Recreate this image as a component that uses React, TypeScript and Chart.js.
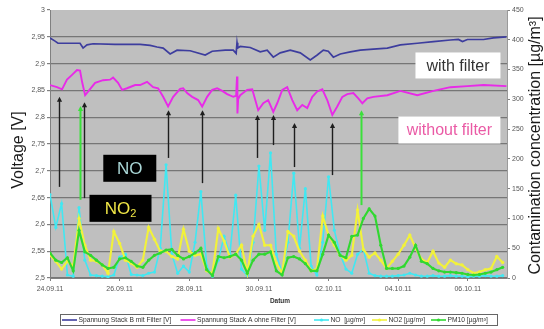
import { useEffect, useRef } from 'react';
import { Chart, registerables } from 'chart.js';

Chart.register(...registerables);

// Time axis: hours since 24.09.2011 00:00
const dateTickHours = [0, 48, 96, 144, 192, 240, 288];
const dateLabels = ['24.09.11', '26.09.11', '28.09.11', '30.09.11', '02.10.11', '04.10.11', '06.10.11'];

// Stack B (with filter), voltage [V]
const stackBHours = [0, 3.5, 5.5, 20.7, 22.8, 25.5, 29.7, 44.9, 62.1, 69, 73.8, 78, 82.8, 87.6, 96.6, 107, 111.8, 120.8, 126.3, 128.3, 128.9, 129.4, 131.1, 138, 144.9, 149.7, 153.9, 158.7, 165.6, 172.5, 179.4, 184.2, 188.4, 191.8, 195.3, 200.1, 207, 213.9, 222.9, 232.5, 241.5, 253.2, 264.3, 276, 281.5, 284.3, 287.7, 298.8, 305.7, 314.6];
const stackBVolts = [2.948, 2.942, 2.938, 2.938, 2.929, 2.935, 2.937, 2.936, 2.936, 2.934, 2.931, 2.929, 2.918, 2.925, 2.924, 2.916, 2.923, 2.925, 2.925, 2.919, 2.939, 2.929, 2.932, 2.93, 2.922, 2.925, 2.912, 2.92, 2.925, 2.92, 2.907, 2.916, 2.925, 2.923, 2.912, 2.918, 2.922, 2.925, 2.927, 2.929, 2.935, 2.938, 2.941, 2.944, 2.945, 2.941, 2.945, 2.945, 2.948, 2.95];

// Stack A (without filter), voltage [V]
const stackAHours = [0, 4.8, 8.3, 11.7, 15.2, 18.6, 20.7, 22.1, 24.2, 26.9, 31.1, 36.6, 41.4, 43.5, 46.9, 49.7, 53.1, 58.7, 62.1, 66.9, 71.1, 74.5, 78, 81.4, 84.9, 89.7, 91.8, 94.5, 98, 102.1, 104.9, 108.3, 111.8, 115.2, 118.7, 122.1, 126.3, 128.3, 128.9, 129.2, 129.7, 131.1, 135.9, 139.4, 141.5, 143.5, 147, 150.4, 153.9, 156.6, 160.1, 163.5, 167, 170.4, 173.9, 177.3, 180.8, 184.2, 187.7, 191.1, 194.6, 198, 201.5, 204.9, 209.1, 212.5, 215.3, 218.7, 222.9, 232.5, 241.5, 253.2, 264.3, 276, 287.7, 298.8, 314.6];
const stackAVolts = [2.86, 2.856, 2.852, 2.87, 2.879, 2.888, 2.887, 2.866, 2.841, 2.85, 2.864, 2.869, 2.87, 2.874, 2.864, 2.851, 2.854, 2.86, 2.86, 2.866, 2.856, 2.854, 2.838, 2.82, 2.838, 2.853, 2.854, 2.845, 2.838, 2.832, 2.82, 2.838, 2.851, 2.854, 2.849, 2.843, 2.838, 2.84, 2.876, 2.807, 2.834, 2.841, 2.851, 2.852, 2.832, 2.813, 2.826, 2.832, 2.81, 2.826, 2.851, 2.856, 2.832, 2.813, 2.823, 2.817, 2.838, 2.848, 2.852, 2.832, 2.804, 2.82, 2.838, 2.843, 2.845, 2.835, 2.826, 2.835, 2.838, 2.841, 2.849, 2.841, 2.849, 2.856, 2.858, 2.86, 2.858];

// Pollutant readings every 4 hours [µg/m³]
const sampleHours = Array.from({ length: 79 }, (_, i) => i * 4);
const noValues = [140, 85, 125, 5, 3, 118, 30, 5, 4, 3, 2, 5, 35, 40, 6, 5, 4, 8, 10, 50, 190, 40, 8, 20, 10, 60, 145, 20, 3, 30, 70, 40, 139, 15, 4, 60, 188, 80, 210, 40, 8, 60, 176, 50, 150, 20, 5, 60, 170, 80, 40, 15, 8, 40, 48, 8, 4, 3, 3, 3, 4, 5, 8, 5, 3, 3, 4, 3, 3, 4, 3, 3, 2, 3, 3, 4, 3, 3, 4];
const no2Values = [38, 28, 15, 28, 20, 100, 55, 30, 28, 22, 8, 78, 58, 30, 25, 18, 30, 85, 65, 45, 45, 36, 32, 82, 45, 38, 40, 12, 8, 83, 62, 35, 40, 55, 8, 70, 90, 55, 55, 25, 8, 78, 70, 45, 30, 12, 15, 104, 72, 55, 38, 30, 38, 114, 48, 35, 42, 30, 16, 28, 40, 55, 72, 50, 32, 26, 45, 25, 18, 30, 24, 22, 14, 8, 10, 14, 16, 36, 26];
const pm10Values = [42, 30, 26, 34, 12, 80, 44, 38, 30, 22, 16, 18, 32, 34, 28, 20, 18, 30, 38, 42, 47, 48, 38, 32, 36, 42, 50, 14, 4, 36, 34, 36, 40, 30, 8, 30, 40, 40, 44, 12, 5, 34, 36, 32, 24, 12, 12, 40, 72, 60, 38, 34, 70, 72, 100, 116, 104, 55, 16, 16, 16, 20, 35, 55, 28, 24, 16, 12, 10, 10, 9, 8, 6, 5, 6, 8, 10, 14, 18];

const seriesLabels = ['Spannung Stack B mit Filter [V]', 'Spannung Stack A ohne Filter [V]', 'NO  [µg/m³]', 'NO2 [µg/m³]', 'PM10 [µg/m³]'];
const seriesColors = ['#3d3d9e', '#e82ae8', '#40e8f2', '#f2f23a', '#30d830'];

// Arrows marking voltage drops caused by pollution peaks (hour, tip and tail voltage)
const arrowHours = [6.2, 20.7, 23.5, 81.4, 104.9, 142.8, 153.9, 168.4, 194.6, 214.6];
const arrowTipVolts = [2.838, 2.821, 2.828, 2.813, 2.813, 2.804, 2.804, 2.789, 2.789, 2.813];
const arrowTailVolts = [2.67, 2.646, 2.649, 2.724, 2.677, 2.724, 2.748, 2.707, 2.692, 2.636];
const arrowIsGreen = [false, true, false, false, false, false, false, false, false, true];

const FONT = '"Liberation Sans", Arial, sans-serif';

type Box = { text: string; sub?: string; hour: number; volt: number; w: number; h: number; fg: string; bg: string; size: number };
const labelBoxes: Box[] = [
  { text: 'with filter', hour: 281.2, volt: 2.8965, w: 85, h: 26, fg: '#333333', bg: '#ffffff', size: 16 },
  { text: 'without filter', hour: 275.3, volt: 2.776, w: 102, h: 27, fg: '#ea5aa5', bg: '#ffffff', size: 16 },
  { text: 'NO', hour: 55.0, volt: 2.7047, w: 53, h: 27, fg: '#a9d6d6', bg: '#000000', size: 17 },
  { text: 'NO', sub: '2', hour: 48.6, volt: 2.630, w: 62, h: 27, fg: '#f0e646', bg: '#000000', size: 17 },
];

const overlayPlugin = {
  id: 'overlay',
  beforeDraw(chart: any) {
    const { ctx, chartArea: a } = chart;
    ctx.save();
    ctx.fillStyle = '#bfbfbf';
    ctx.fillRect(a.left, a.top, a.right - a.left, a.bottom - a.top);
    ctx.restore();
  },
  afterDatasetsDraw(chart: any) {
    const { ctx } = chart;
    const xs = chart.scales.x;
    const ys = chart.scales.y;
    ctx.save();
    // arrows
    arrowHours.forEach((h, i) => {
      const x = Math.round(xs.getPixelForValue(h)) + 0.5;
      const tip = ys.getPixelForValue(arrowTipVolts[i]);
      const tail = ys.getPixelForValue(arrowTailVolts[i]);
      const color = arrowIsGreen[i] ? '#3be03b' : '#1e1e1e';
      ctx.strokeStyle = color;
      ctx.fillStyle = color;
      ctx.lineWidth = arrowIsGreen[i] ? 2 : 1.4;
      ctx.beginPath();
      ctx.moveTo(x, tail);
      ctx.lineTo(x, tip + 4);
      ctx.stroke();
      ctx.beginPath();
      ctx.moveTo(x, tip);
      ctx.lineTo(x - 2.6, tip + 5);
      ctx.lineTo(x + 2.6, tip + 5);
      ctx.closePath();
      ctx.fill();
    });
    // text boxes
    labelBoxes.forEach((b) => {
      const cx = xs.getPixelForValue(b.hour);
      const cy = ys.getPixelForValue(b.volt);
      ctx.fillStyle = b.bg;
      ctx.fillRect(cx - b.w / 2, cy - b.h / 2, b.w, b.h);
      ctx.fillStyle = b.fg;
      ctx.textBaseline = 'middle';
      ctx.font = `${b.size}px ${FONT}`;
      const mainW = ctx.measureText(b.text).width;
      let subW = 0;
      const subSize = Math.round(b.size * 0.65);
      if (b.sub) {
        ctx.font = `${subSize}px ${FONT}`;
        subW = ctx.measureText(b.sub).width;
      }
      const start = cx - (mainW + subW) / 2;
      ctx.textAlign = 'left';
      ctx.font = `${b.size}px ${FONT}`;
      ctx.fillText(b.text, start, cy + 1);
      if (b.sub) {
        ctx.font = `${subSize}px ${FONT}`;
        ctx.fillText(b.sub, start + mainW, cy + 6);
      }
    });
    ctx.restore();
  },
  afterDraw(chart: any) {
    const { ctx } = chart;
    ctx.save();
    ctx.fillStyle = '#1a1a1a';
    ctx.textAlign = 'center';
    ctx.textBaseline = 'middle';
    ctx.font = `16px ${FONT}`;
    ctx.save();
    ctx.translate(19, 150);
    ctx.rotate(-Math.PI / 2);
    ctx.fillText('Voltage [V]', 0, 0);
    ctx.restore();
    ctx.save();
    ctx.translate(536, 145.5);
    ctx.rotate(-Math.PI / 2);
    ctx.fillText('Contamination concentration [µg/m³]', 0, 0);
    ctx.restore();

    ctx.font = `bold 6.5px ${FONT}`;
    ctx.fillStyle = '#333333';
    ctx.fillText('Datum', 280, 301);

    // legend
    const lx = 60, ly = 314, lw = 437, lh = 12;
    ctx.fillStyle = '#ffffff';
    ctx.fillRect(lx, ly, lw, lh);
    ctx.strokeStyle = '#666666';
    ctx.lineWidth = 1;
    ctx.strokeRect(lx + 0.5, ly + 0.5, lw, lh - 1);
    const itemX = [62, 180.5, 314, 372, 431];
    const cy = ly + lh / 2;
    ctx.font = `6.7px ${FONT}`;
    ctx.textAlign = 'left';
    seriesLabels.forEach((label, i) => {
      const x0 = itemX[i];
      ctx.strokeStyle = seriesColors[i];
      ctx.lineWidth = 1.6;
      ctx.beginPath();
      ctx.moveTo(x0, cy);
      ctx.lineTo(x0 + 15, cy);
      ctx.stroke();
      if (i >= 2) {
        ctx.fillStyle = seriesColors[i];
        ctx.beginPath();
        ctx.arc(x0 + 7.5, cy, 1.6, 0, Math.PI * 2);
        ctx.fill();
      }
      ctx.fillStyle = '#333333';
      ctx.fillText(label, x0 + 16.5, cy + 0.5);
    });
    ctx.restore();
  },
};

export default function App() {
  const canvasRef = useRef<HTMLCanvasElement | null>(null);

  useEffect(() => {
    if (!canvasRef.current) return;
    Chart.defaults.font.family = FONT;

    const lineSeries = (hours: number[], values: number[]) => hours.map((h, i) => ({ x: h, y: values[i] }));

    const chart = new Chart(canvasRef.current, {
      type: 'line',
      data: {
        datasets: [
          {
            label: seriesLabels[0],
            data: lineSeries(stackBHours, stackBVolts),
            yAxisID: 'y',
            borderColor: seriesColors[0],
            borderWidth: 1.7,
            pointRadius: 0,
            order: 4,
          },
          {
            label: seriesLabels[1],
            data: lineSeries(stackAHours, stackAVolts),
            yAxisID: 'y',
            borderColor: seriesColors[1],
            borderWidth: 1.9,
            pointRadius: 0,
            order: 3,
          },
          {
            label: seriesLabels[2],
            data: lineSeries(sampleHours, noValues),
            yAxisID: 'y1',
            borderColor: seriesColors[2],
            backgroundColor: seriesColors[2],
            borderWidth: 1.6,
            pointRadius: 1.6,
            pointBorderWidth: 0,
            order: 2,
          },
          {
            label: seriesLabels[3],
            data: lineSeries(sampleHours, no2Values),
            yAxisID: 'y1',
            borderColor: seriesColors[3],
            backgroundColor: seriesColors[3],
            borderWidth: 2.1,
            pointRadius: 1.7,
            pointBorderWidth: 0,
            order: 1,
          },
          {
            label: seriesLabels[4],
            data: lineSeries(sampleHours, pm10Values),
            yAxisID: 'y1',
            borderColor: seriesColors[4],
            backgroundColor: seriesColors[4],
            borderWidth: 2.1,
            pointRadius: 1.6,
            pointBorderWidth: 0,
            order: 0,
          },
        ],
      },
      options: {
        responsive: false,
        maintainAspectRatio: false,
        animation: false,
        layout: { padding: { top: 10, left: 0, right: 0, bottom: 0 } },
        plugins: { legend: { display: false }, tooltip: { enabled: false } },
        scales: {
          x: {
            type: 'linear',
            position: 'bottom',
            min: 0,
            max: 315,
            afterBuildTicks: (axis: any) => {
              axis.ticks = dateTickHours.map((value) => ({ value }));
            },
            afterFit: (s: any) => {
              s.height = 51;
            },
            grid: { drawOnChartArea: false, drawTicks: true, tickLength: 3, color: '#808080' },
            border: { color: '#808080' },
            ticks: {
              autoSkip: false,
              maxRotation: 0,
              padding: 4,
              color: '#555555',
              font: { size: 7 },
              callback: (v: any) => dateLabels[dateTickHours.indexOf(Number(v))] ?? '',
            },
          },
          y: {
            type: 'linear',
            position: 'left',
            min: 2.5,
            max: 3,
            afterFit: (s: any) => {
              s.width = 50;
            },
            grid: {
              color: (c: any) => (c.tick && c.tick.value >= 2.999 ? 'rgba(0,0,0,0)' : '#767676'),
              tickColor: '#808080',
              lineWidth: 1.2,
              tickLength: 3,
            },
            border: { color: '#808080' },
            ticks: {
              stepSize: 0.05,
              padding: 2,
              color: '#555555',
              font: { size: 7 },
              callback: (v: any) => String(Number(Number(v).toFixed(2))).replace('.', ','),
            },
          },
          y1: {
            type: 'linear',
            position: 'right',
            min: 0,
            max: 450,
            afterFit: (s: any) => {
              s.width = 37;
            },
            grid: { drawOnChartArea: false, tickLength: 3, color: '#808080' },
            border: { color: '#9a9a9a' },
            ticks: {
              stepSize: 50,
              padding: 2,
              color: '#555555',
              font: { size: 7 },
            },
          },
        },
      },
      plugins: [overlayPlugin],
    });

    return () => chart.destroy();
  }, []);

  return (
    <div style={{ position: 'fixed', left: 0, top: 0, width: 544, height: 329, background: '#ffffff' }}>
      <canvas ref={canvasRef} width={544} height={329} />
    </div>
  );
}
